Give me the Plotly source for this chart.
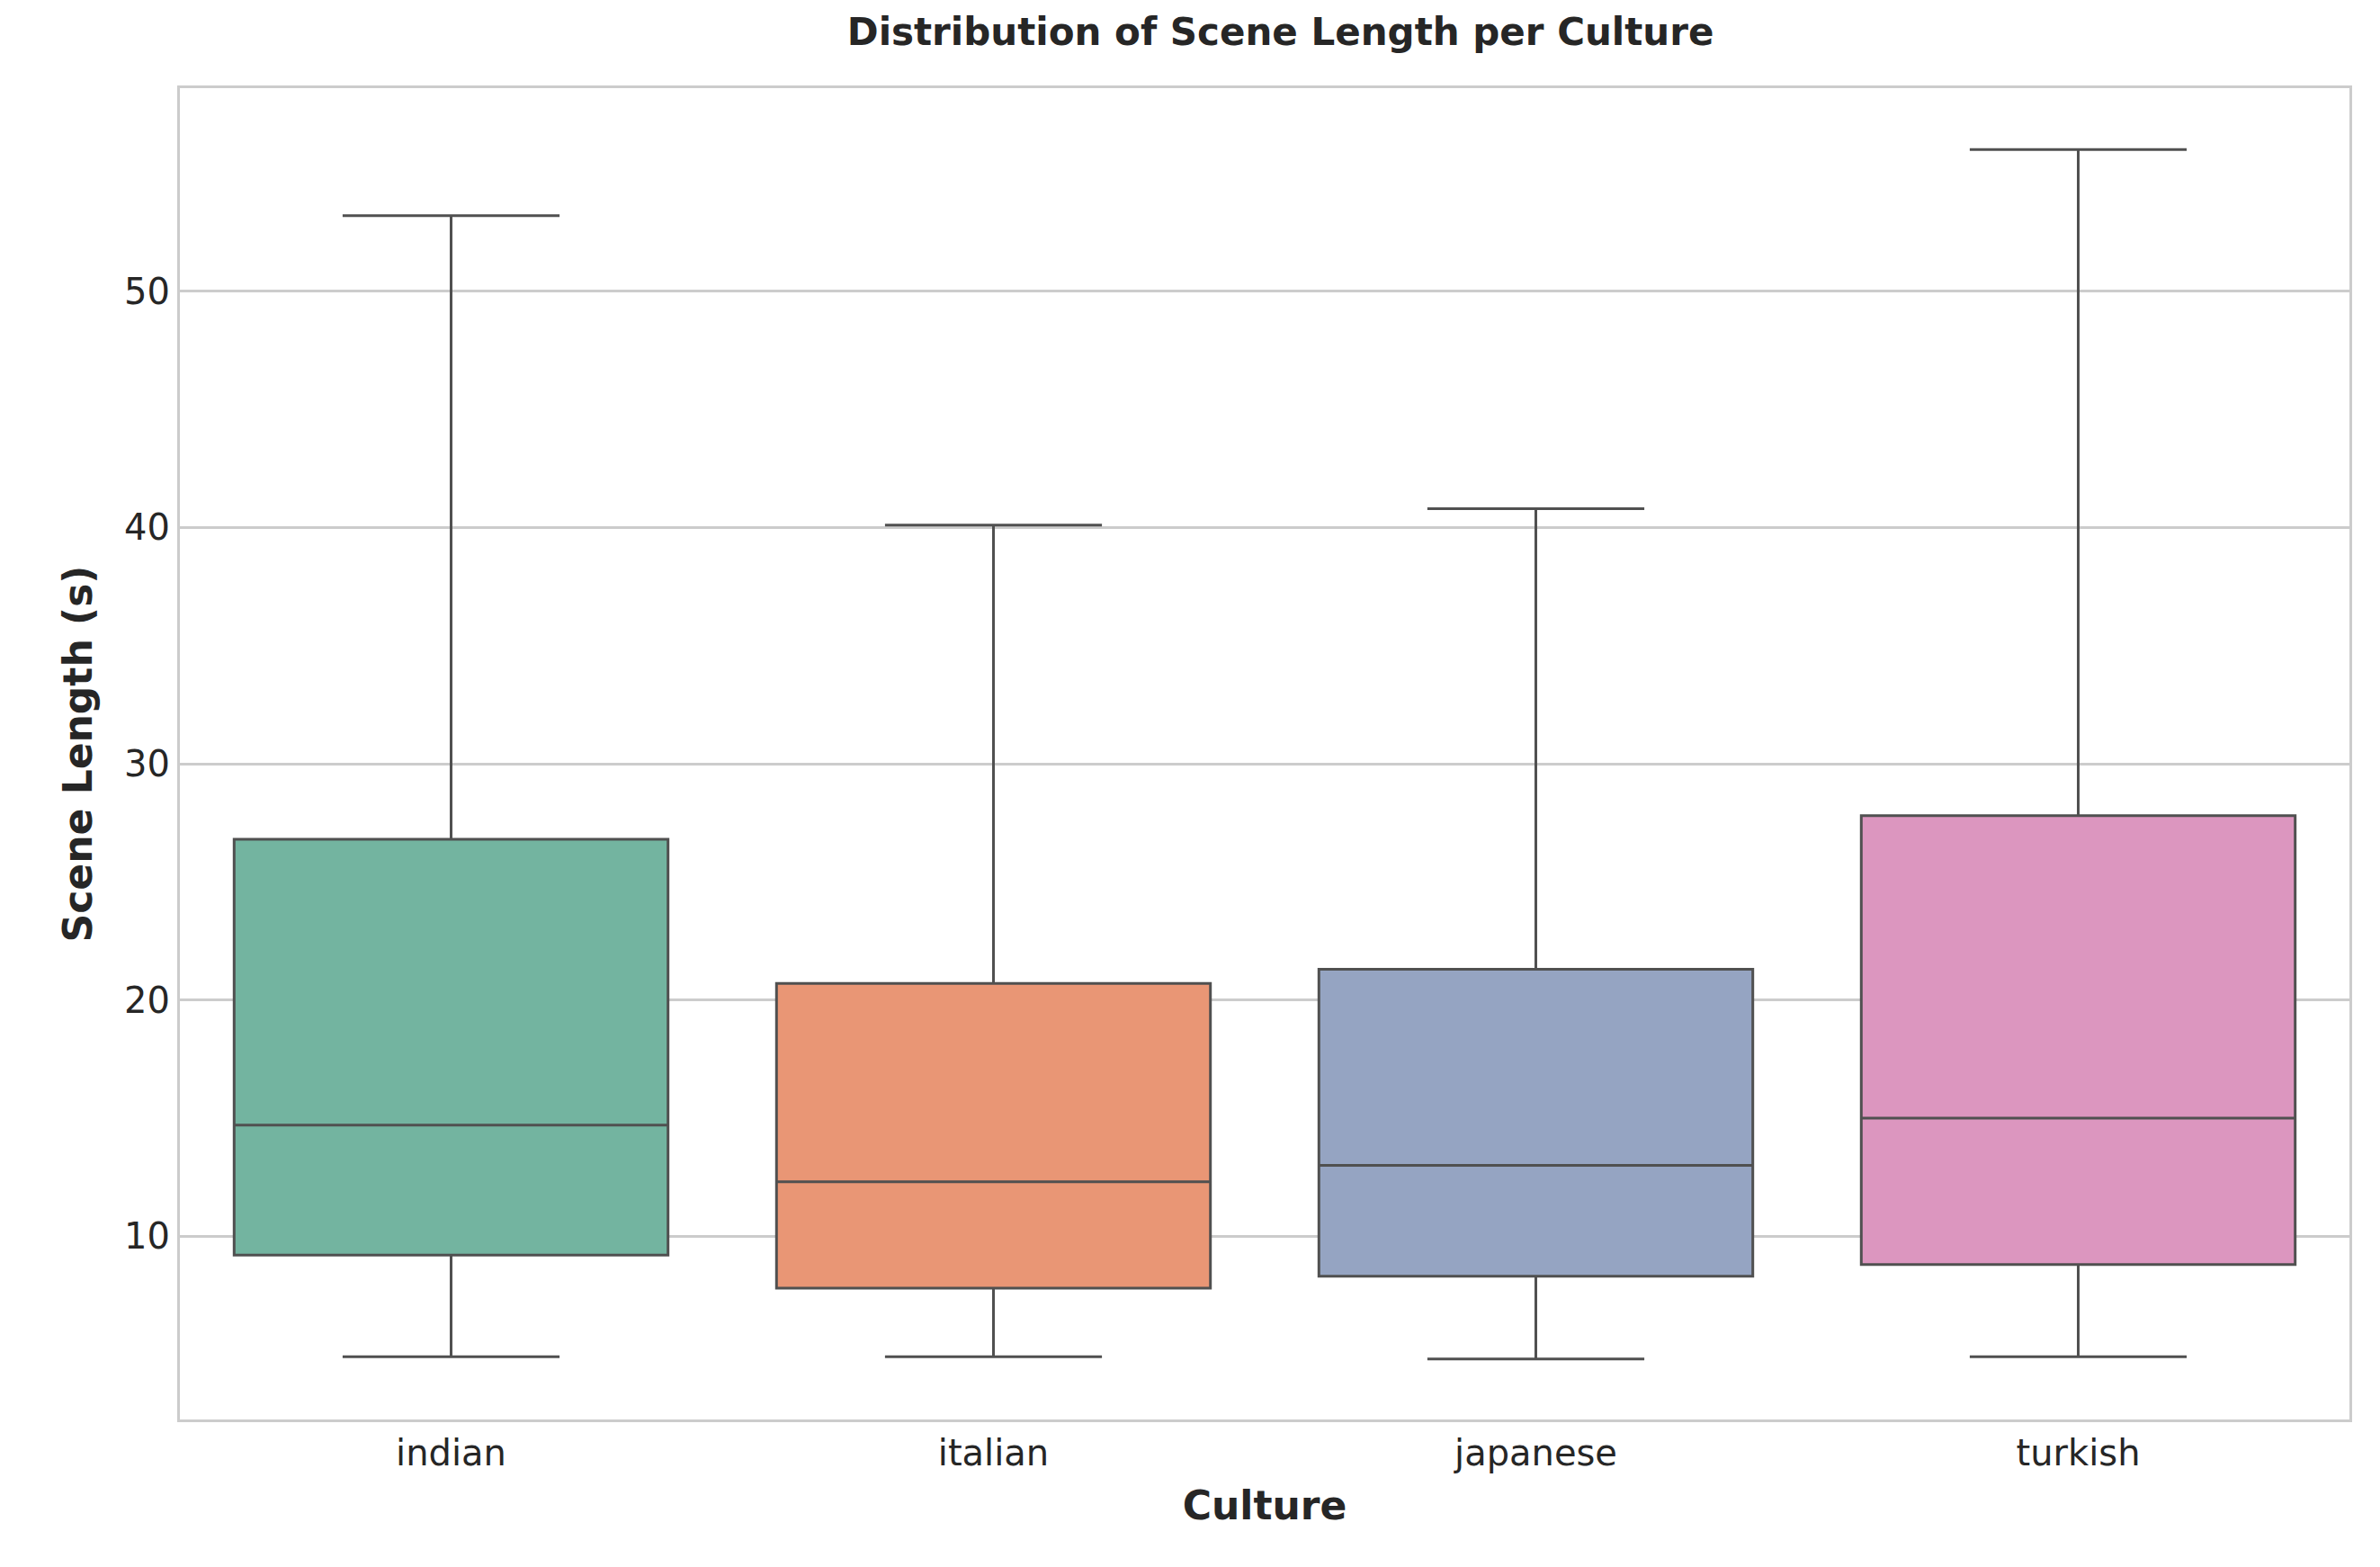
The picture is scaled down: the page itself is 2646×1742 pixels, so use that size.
import plotly.graph_objects as go

# box stats
cultures = ['indian', 'italian', 'japanese', 'turkish']
mins = [4.9, 4.9, 4.8, 4.9]
q1s = [9.2, 7.8, 8.3, 8.8]
medians = [14.7, 12.3, 13.0, 15.0]
q3s = [26.8, 20.7, 21.3, 27.8]
maxs = [53.2, 40.1, 40.8, 56.0]
colors = ['#73b4a0', '#e99675', '#95a4c2', '#dc96bf']

fig = go.Figure()
for i, c in enumerate(cultures):
    fig.add_trace(go.Box(
        x=[c], q1=[q1s[i]], median=[medians[i]], q3=[q3s[i]],
        lowerfence=[mins[i]], upperfence=[maxs[i]],
        fillcolor=colors[i], line=dict(color='#505050', width=3),
        width=0.8, whiskerwidth=0.5, showlegend=False, hoverinfo='y',
    ))

fig.update_layout(
    width=2646, height=1742,
    margin=dict(l=192, r=42, t=90, b=172),
    plot_bgcolor='white', paper_bgcolor='white',
    font=dict(family='DejaVu Sans', size=38, color='#262626'),
    title=dict(text='<b>Distribution of Scene Length per Culture</b>',
               x=0.535, xanchor='center', y=0.993, yanchor='top', font=dict(size=42)),
    xaxis=dict(title=dict(text='<b>Culture</b>', font=dict(size=44), standoff=22),
               showgrid=False, showline=True, mirror=True, linecolor='#cccccc', linewidth=3,
               ticks='', tickfont=dict(size=40), range=[-0.5, 3.5]),
    yaxis=dict(title=dict(text='<b>Scene Length (s)</b>', font=dict(size=44), standoff=22),
               range=[2.24, 58.6], tickvals=[10, 20, 30, 40, 50],
               showgrid=True, gridcolor='#cccccc', gridwidth=2.5, zeroline=False,
               showline=True, mirror=True, linecolor='#cccccc', linewidth=3,
               ticks='', tickfont=dict(size=40)),
)

fig.write_html("out.html")
